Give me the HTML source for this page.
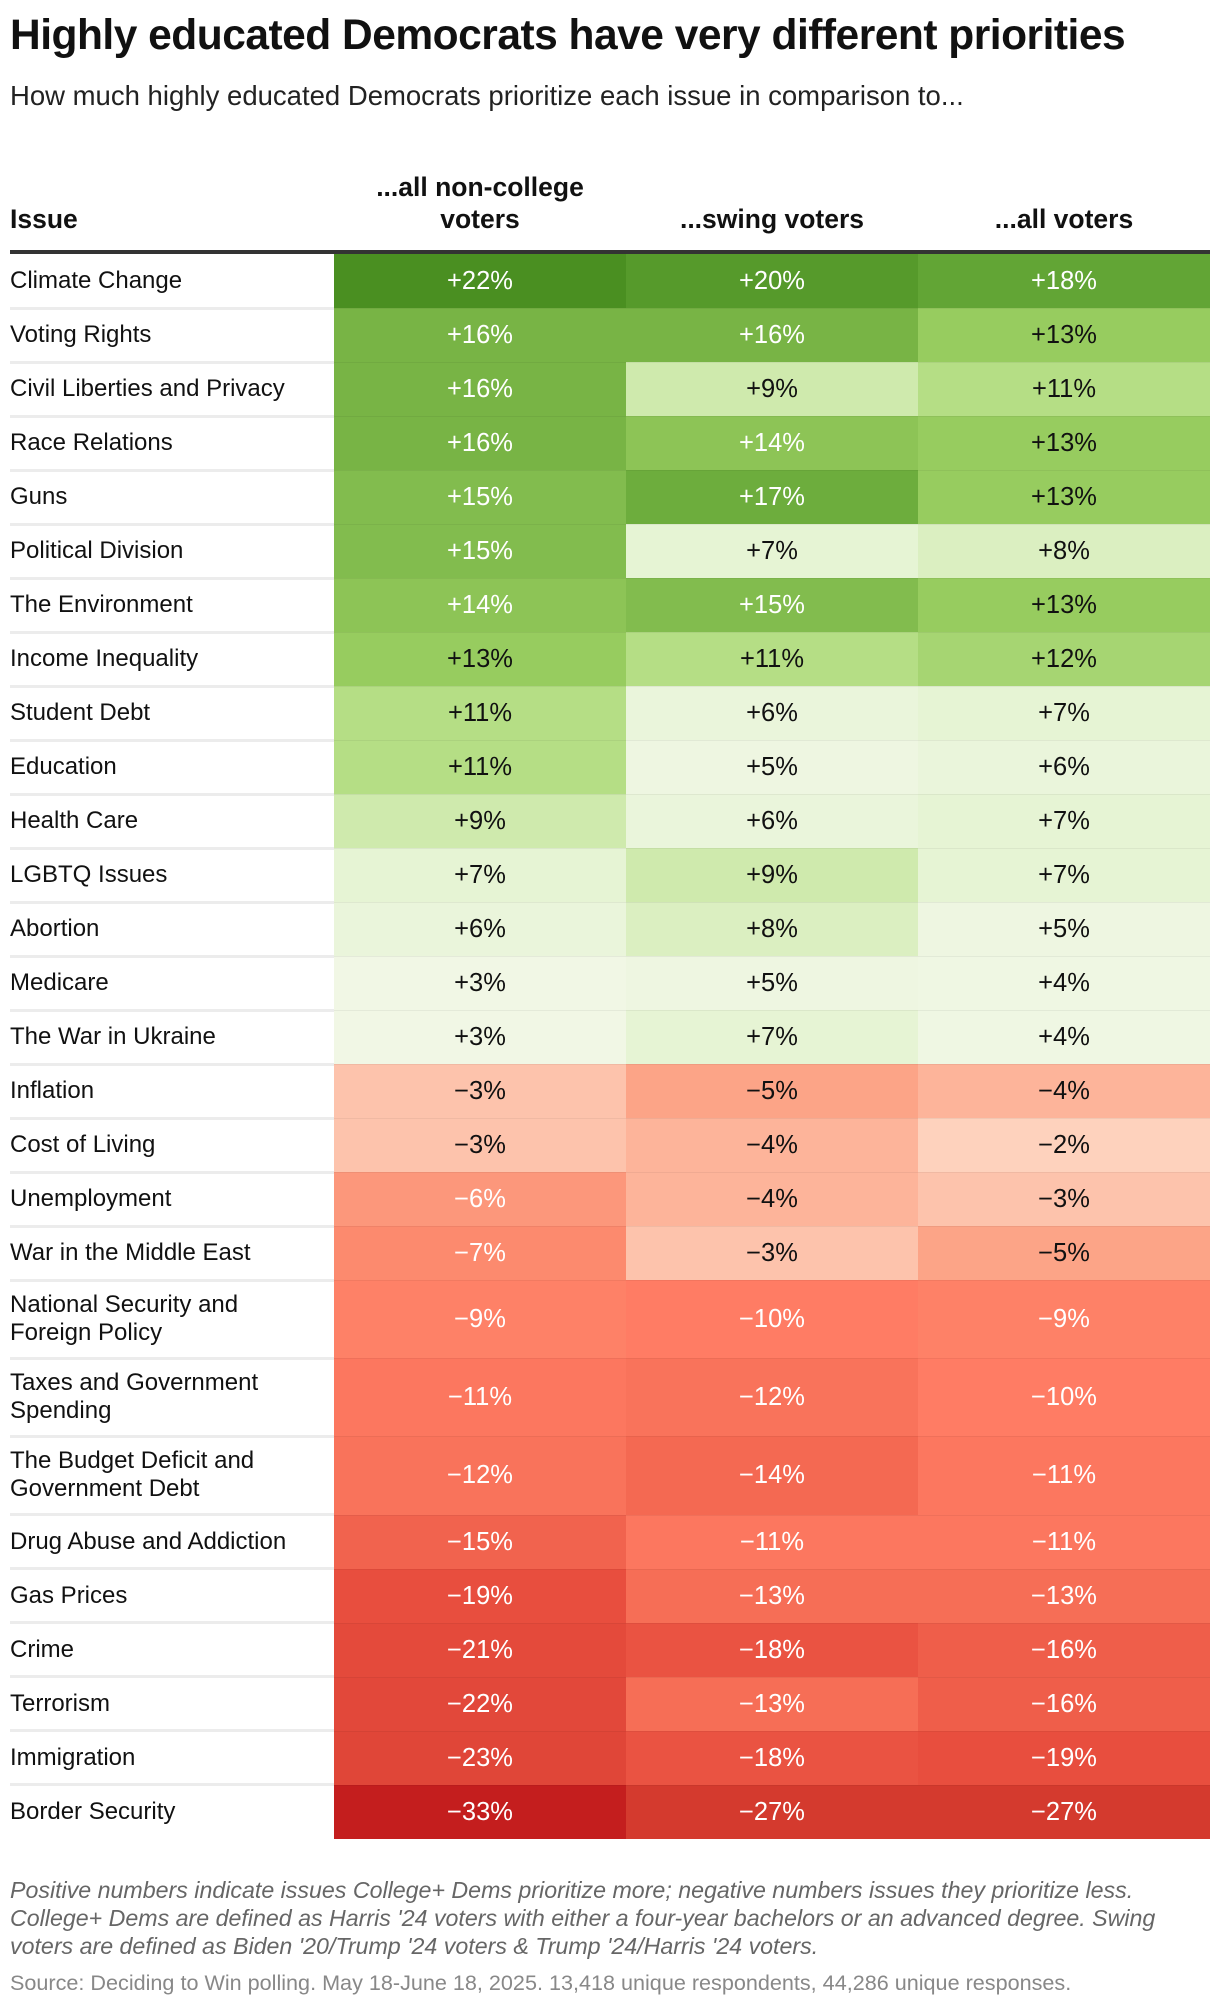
<!DOCTYPE html>
<html><head><meta charset="utf-8">
<style>
body{margin:0;background:#fff;font-family:"Liberation Sans",sans-serif;color:#111;}
#page{position:relative;width:1220px;height:2006px;overflow:hidden;}
.abs{position:absolute;}
.title{left:10px;top:11px;font-size:42.5px;line-height:50px;font-weight:bold;letter-spacing:-0.5px;white-space:nowrap;}
.sub{left:10px;top:79px;font-size:27.5px;line-height:34px;color:#222;white-space:nowrap;}
.hdr{font-size:26.5px;font-weight:bold;text-align:center;line-height:32px;white-space:nowrap;}
.lbl{left:10px;font-size:24px;line-height:28px;display:flex;align-items:center;color:#111;white-space:nowrap;}
.cell{display:flex;align-items:center;justify-content:center;font-size:25.5px;box-sizing:border-box;border-top:1px solid rgba(0,0,0,0.05);}
.sep{left:10px;width:324px;height:3px;background:#ececec;}
.note{left:10px;font-size:23.2px;font-style:italic;color:#666;line-height:28px;top:1876px;width:1210px;white-space:nowrap;}
.src{left:10px;top:1970px;font-size:21.6px;line-height:26px;color:#888;white-space:nowrap;}
</style></head><body>
<div id="page">
<div class="abs title">Highly educated Democrats have very different priorities</div>
<div class="abs sub">How much highly educated Democrats prioritize each issue in comparison to...</div>
<div class="abs hdr" style="left:10px;top:203px;text-align:left">Issue</div>
<div class="abs hdr" style="left:334px;width:292px;top:171px">...all non-college<br>voters</div>
<div class="abs hdr" style="left:626px;width:292px;top:203px">...swing voters</div>
<div class="abs hdr" style="left:918px;width:292px;top:203px">...all voters</div>
<div class="abs" style="left:10px;top:250px;width:1200px;height:4px;background:#333"></div>
<div id="table"></div>
<div class="abs note">Positive numbers indicate issues College+ Dems prioritize more; negative numbers issues they prioritize less.<br>College+ Dems are defined as Harris '24 voters with either a four-year bachelors or an advanced degree. Swing<br>voters are defined as Biden '20/Trump '24 voters &amp; Trump '24/Harris '24 voters.</div>
<div class="abs src">Source: Deciding to Win polling. May 18-June 18, 2025. 13,418 unique respondents, 44,286 unique responses.</div>
</div>
<script>
const issues = ["Climate Change","Voting Rights","Civil Liberties and Privacy","Race Relations","Guns","Political Division","The Environment","Income Inequality","Student Debt","Education","Health Care","LGBTQ Issues","Abortion","Medicare","The War in Ukraine","Inflation","Cost of Living","Unemployment","War in the Middle East","National Security and Foreign Policy","Taxes and Government Spending","The Budget Deficit and Government Debt","Drug Abuse and Addiction","Gas Prices","Crime","Terrorism","Immigration","Border Security"];
const nonCollege = [22,16,16,16,15,15,14,13,11,11,9,7,6,3,3,-3,-3,-6,-7,-9,-11,-12,-15,-19,-21,-22,-23,-33];
const swing = [20,16,9,14,17,7,15,11,6,5,6,9,8,5,7,-5,-4,-4,-3,-10,-12,-14,-11,-13,-18,-13,-18,-27];
const allVoters = [18,13,11,13,13,8,13,12,7,6,7,7,5,4,4,-4,-2,-3,-5,-9,-10,-11,-11,-13,-16,-16,-19,-27];
const doubleRows = ["National Security and Foreign Policy","Taxes and Government Spending","The Budget Deficit and Government Debt"];
const labelBreaks = {"National Security and Foreign Policy":"National Security and<br>Foreign Policy","Taxes and Government Spending":"Taxes and Government<br>Spending","The Budget Deficit and Government Debt":"The Budget Deficit and<br>Government Debt"};

const posStops=[[0,[245,249,236]],[5,[238,246,225]],[7,[230,244,212]],[9,[207,234,173]],[11,[181,222,133]],[13,[151,204,95]],[16,[120,180,69]],[18,[98,165,53]],[22,[74,143,33]]];
const negStops=[[0,[254,222,208]],[2,[254,210,189]],[3,[253,195,172]],[5,[252,164,135]],[7,[252,138,110]],[10,[255,124,100]],[13,[246,110,86]],[16,[239,94,74]],[19,[232,78,62]],[23,[224,70,56]],[27,[212,58,46]],[33,[196,30,30]]];
function colorFor(v){
  const stops=v>=0?posStops:negStops; const m=Math.abs(v);
  for(let i=1;i<stops.length;i++){ if(m<=stops[i][0]){const a=stops[i-1],b=stops[i];const t=(m-a[0])/(b[0]-a[0]);
    return 'rgb('+a[1].map((c,k)=>Math.round(c+(b[1][k]-c)*t)).join(',')+')';}}
  return 'rgb('+stops[stops.length-1][1].join(',')+')';
}
function fmt(v){return (v>0?'+':'\u2212')+Math.abs(v)+'%';}
const tbl=document.getElementById('table');
const colX=[334,626,918,1210];
const series=[nonCollege,swing,allVoters];
const colNames=['non-college','swing','all-voters'];
let y=254;
issues.forEach((iss,i)=>{
  const h=doubleRows.includes(iss)?78.2:54;
  if(i>0){const s=document.createElement('div');s.className='abs sep';s.style.top=(y-1.5)+'px';
    
    
    tbl.appendChild(s);}
  const l=document.createElement('div');l.className='abs lbl';l.style.top=y+'px';l.style.height=h+'px';
  l.innerHTML=labelBreaks[iss]||iss;
  
  
  tbl.appendChild(l);
  series.forEach((s,j)=>{
    const v=s[i];const c=document.createElement('div');c.className='abs cell';
    c.style.left=colX[j]+'px';c.style.width=(colX[j+1]-colX[j])+'px';c.style.top=y+'px';c.style.height=h+'px';
    c.style.background=colorFor(v);
    c.style.color=(v>=14||v<=-6)?'#fff':'#111';
    if(i===0)c.style.borderTop='none';
    c.textContent=fmt(v);
    
    
    tbl.appendChild(c);
  });
  y+=h;
});
</script>
</body></html>
